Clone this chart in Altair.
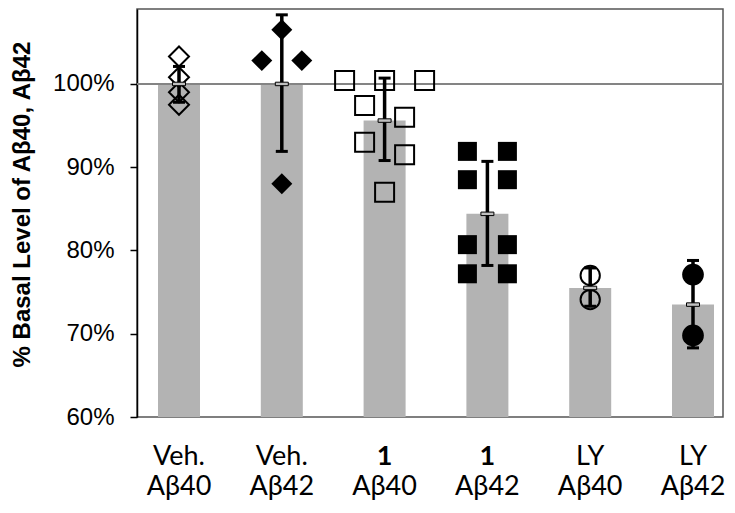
import altair as alt
import pandas as pd

# ---- data ----
categories = ["Veh. Aβ40", "Veh. Aβ42", "1 Aβ40", "1 Aβ42", "LY Aβ40", "LY Aβ42"]
label_line1 = ["Veh.", "Veh.", "1", "1", "LY", "LY"]
label_line2 = ["Aβ40", "Aβ42", "Aβ40", "Aβ42", "Aβ40", "Aβ42"]
label_bold = [False, False, True, True, False, False]

bar_means = [100.0, 100.0, 95.6, 84.4, 75.5, 73.5]
err_low = [97.8, 91.9, 90.8, 78.2, 73.3, 68.3]
err_high = [102.1, 108.3, 100.7, 90.7, 77.9, 78.8]

pts_veh40 = [103.3, 100.8, 99.0, 97.5]
slot_veh40 = [0, 0, 0, 0]
pts_veh42 = [106.5, 102.8, 102.8, 88.0]
slot_veh42 = [0, -1, 1, 0]
pts_c1_40 = [100.4, 100.4, 100.4, 97.4, 96.0, 93.0, 91.5, 87.0]
slot_c1_40 = [-2, 0, 2, -1, 1, -1, 1, 0]
pts_c1_42 = [91.9, 91.9, 88.5, 88.5, 80.7, 80.7, 77.2, 77.2]
slot_c1_42 = [-1, 1, -1, 1, -1, 1, -1, 1]
pts_ly40 = [77.0, 74.1]
slot_ly40 = [0, 0]
pts_ly42 = [77.1, 69.8]
slot_ly42 = [0, 0]

# ---- marker styles per group ----
styles = {
    "Veh. Aβ40": ("diamond", False, 400),
    "Veh. Aβ42": ("diamond", True, 440),
    "1 Aβ40": ("square", False, 361),
    "1 Aβ42": ("square", True, 361),
    "LY Aβ40": ("circle", False, 372),
    "LY Aβ42": ("circle", True, 470),
}

groups = [
    ("Veh. Aβ40", pts_veh40, slot_veh40),
    ("Veh. Aβ42", pts_veh42, slot_veh42),
    ("1 Aβ40", pts_c1_40, slot_c1_40),
    ("1 Aβ42", pts_c1_42, slot_c1_42),
    ("LY Aβ40", pts_ly40, slot_ly40),
    ("LY Aβ42", pts_ly42, slot_ly42),
]
rows = []
for cat, vals, slots in groups:
    shp, filled, size = styles[cat]
    for v, s in zip(vals, slots):
        rows.append({"cat": cat, "val": v, "slot": s, "shape": shp,
                     "filled": filled, "size": size})
pts = pd.DataFrame(rows)

bars = pd.DataFrame({"cat": categories, "mean": bar_means,
                     "lo": err_low, "hi": err_high,
                     "l1": label_line1, "l2": label_line2, "bold": label_bold})

W, H = 586, 408
step = 102.8
bw = 42
p_inner = 1 - bw / step
p_outer = (W / step - 6 + p_inner) / 2

xscale = alt.Scale(domain=categories, paddingInner=p_inner,
                   paddingOuter=p_outer, align=0.7)
X = alt.X("cat:N", scale=xscale, axis=None)
yscale = alt.Scale(domain=[60, 109], zero=False, nice=False)
Y_axis = alt.Axis(values=[60, 70, 80, 90, 100], labelExpr="datum.value + '%'",
                  grid=False, labelFont="Liberation Sans", labelFontSize=24,
                  labelColor="black", labelPadding=16, tickSize=7,
                  tickColor="black", tickWidth=1.5, domainColor="black",
                  domainWidth=1.5, title="% Basal Level of Aβ40, Aβ42",
                  titleFont="Liberation Sans", titleFontSize=24,
                  titleFontWeight="bold", titleColor="black",
                  titlePadding=18, titleY=195)

base = alt.Chart(bars)

bar_layer = base.mark_bar(color="#b3b3b3", size=bw).encode(
    x=X,
    y=alt.Y("mean:Q", scale=yscale, axis=Y_axis),
    y2=alt.datum(60),
)

ref_line = base.mark_rule(color="#858585", strokeWidth=1.5).encode(
    y=alt.datum(100)
)

xoff = alt.XOffset("slot:Q", scale=alt.Scale(domain=[-2, 2],
                                             range=[bw / 2 - 40, bw / 2 + 40],
                                             zero=False))

open_pts = alt.Chart(pts).transform_filter("!datum.filled").mark_point(
    filled=False, stroke="black", strokeWidth=2, opacity=1
).encode(
    x=X, xOffset=xoff, y=alt.Y("val:Q", scale=yscale),
    shape=alt.Shape("shape:N", scale=None),
    size=alt.Size("size:Q", scale=None),
)

filled_pts = alt.Chart(pts).transform_filter("datum.filled").mark_point(
    filled=True, color="black", opacity=1
).encode(
    x=X, xOffset=xoff, y=alt.Y("val:Q", scale=yscale),
    shape=alt.Shape("shape:N", scale=None),
    size=alt.Size("size:Q", scale=None),
)

err_rule = base.mark_rule(color="black", strokeWidth=3.5).encode(
    x=X, y=alt.Y("lo:Q", scale=yscale), y2="hi:Q"
)
cap_lo = base.mark_tick(color="black", thickness=3, size=12, opacity=1).encode(
    x=X, y=alt.Y("lo:Q", scale=yscale)
)
cap_hi = base.mark_tick(color="black", thickness=3, size=12, opacity=1).encode(
    x=X, y=alt.Y("hi:Q", scale=yscale)
)
mean_tick = base.mark_tick(fill="#c0c0c0", stroke="black", strokeWidth=1,
                           thickness=3.5, size=13, opacity=1,
                           filled=True).encode(
    x=X, y=alt.Y("mean:Q", scale=yscale)
)

txt1_normal = base.transform_filter("!datum.bold").mark_text(
    font="Lato", fontSize=27, color="black", baseline="alphabetic"
).encode(x=X, y=alt.value(456), text="l1:N")
txt1_bold = base.transform_filter("datum.bold").mark_text(
    font="Lato", fontSize=27, fontWeight="bold", color="black",
    baseline="alphabetic"
).encode(x=X, y=alt.value(456), text="l1:N")
txt2 = base.mark_text(
    font="Lato", fontSize=27, color="black", baseline="alphabetic"
).encode(x=X, y=alt.value(486), text="l2:N")

chart = alt.layer(
    bar_layer, ref_line, open_pts, filled_pts, err_rule, cap_lo, cap_hi,
    mean_tick, txt1_normal, txt1_bold, txt2
).properties(
    width=W, height=H,
    padding={"left": 129, "top": 1, "right": 4, "bottom": 88},
    autosize=alt.AutoSizeParams(type="none"),
).configure_view(stroke="#555555", strokeWidth=1.5)

chart.save("out.html", embed_options={"renderer": "svg", "actions": False})
